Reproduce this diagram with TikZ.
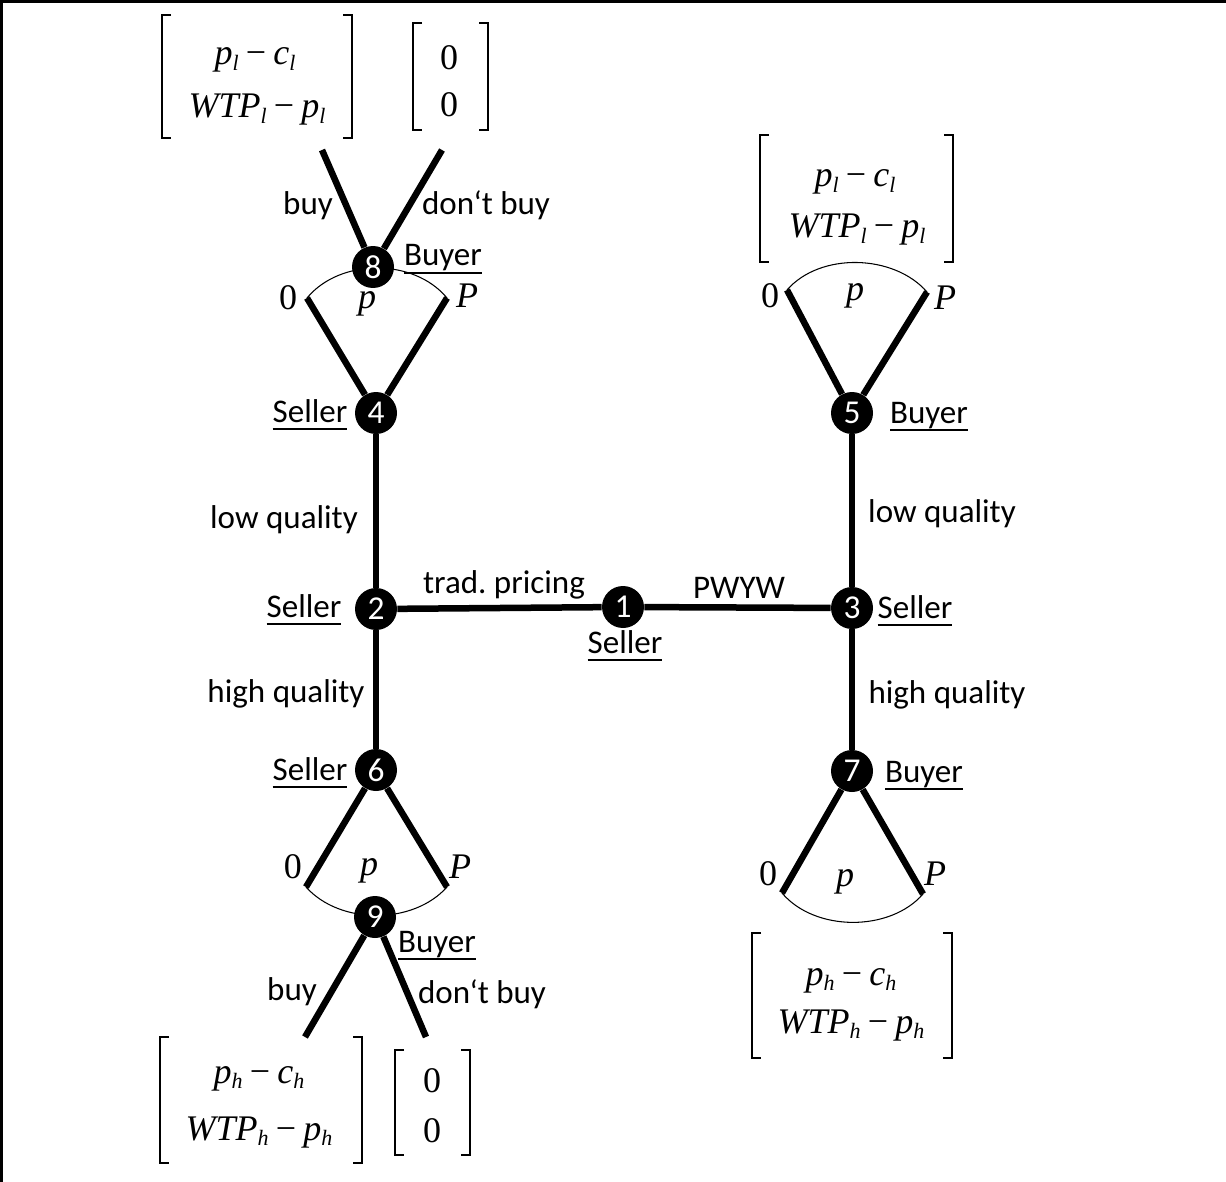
\documentclass[tikz,border=0pt]{standalone}
\usepackage{fontspec}
\setmainfont{Carlito}
\newfontfamily\tnr{Liberation Serif}
\usetikzlibrary{backgrounds}
\frenchspacing
\newcommand\ulx[1]{\sbox0{#1}\rlap{\rule[-4.8pt]{\wd0}{1.4pt}}\usebox0}
\newcommand\sv[2]{\textit{#1}\raisebox{-3pt}{\fontsize{12.5}{14}\selectfont\textit{#2}}}
\newcommand\mm{\hspace{0.2em}−\hspace{0.2em}}
\begin{document}
\begin{tikzpicture}[x=0.02cm,y=-0.02cm,
  dot/.style={circle,fill=black,minimum size=0.84cm,inner sep=0pt,text=white,font=\fontsize{19}{20}\selectfont},
  branch/.style={line width=3.7pt},
  lbl/.style={anchor=base,inner sep=0pt,font=\fontsize{18.8}{22}\selectfont},
  mth/.style={anchor=base,inner sep=0pt,font=\tnr\fontsize{20.5}{24}\selectfont},
  br/.style={line width=1.6pt},
  arcline/.style={line width=0.6pt}]
\useasboundingbox (0,0) rectangle (1226,1182);
\draw[line width=0.06cm] (1.5,1182) -- (1.5,1.5) -- (1226,1.5);

% decision nodes
\node[dot] (n1) at (623,607) {1};
\node[dot] (n2) at (376,609) {2};
\node[dot] (n3) at (852,608) {3};
\node[dot] (n4) at (376,413) {4};
\node[dot] (n5) at (852,413) {5};
\node[dot] (n6) at (376,770) {6};
\node[dot] (n7) at (852,771) {7};
\node[dot] (n8) at (373,267) {8};
\node[dot] (n9) at (375,917) {9};

% free ends
\coordinate (e4l) at (307,298); \coordinate (e4r) at (447,298);
\coordinate (e8l) at (322,150); \coordinate (e8r) at (442,150);
\coordinate (e5l) at (787,290); \coordinate (e5r) at (927,292);
\coordinate (e6l) at (306,887); \coordinate (e6r) at (447,887);
\coordinate (e9l) at (305,1037); \coordinate (e9r) at (426,1037);
\coordinate (e7l) at (782,893); \coordinate (e7r) at (923,894);

\begin{pgfonlayer}{background}
\draw[branch] (n2) -- (n1);
\draw[branch] (n1) -- (n3);
\draw[branch] (n2) -- (n4);
\draw[branch] (n2) -- (n6);
\draw[branch] (n3) -- (n5);
\draw[branch] (n3) -- (n7);
\draw[branch] (n4) -- (e4l);
\draw[branch] (n4) -- (e4r);
\draw[branch] (n8) -- (e8l);
\draw[branch] (n8) -- (e8r);
\draw[branch] (n5) -- (e5l);
\draw[branch] (n5) -- (e5r);
\draw[branch] (n6) -- (e6l);
\draw[branch] (n6) -- (e6r);
\draw[branch] (n9) -- (e9l);
\draw[branch] (n9) -- (e9r);
\draw[branch] (n7) -- (e7l);
\draw[branch] (n7) -- (e7r);
\draw[arcline] (e4l) .. controls (340,258) and (414,258) .. (e4r);
\draw[arcline] (e5l) .. controls (820,252) and (894,254) .. (e5r);
\draw[arcline] (e6l) .. controls (340,925) and (413,925) .. (e6r);
\draw[arcline] (e7l) .. controls (815,932) and (890,932) .. (e7r);
\end{pgfonlayer}

% middle labels
\node[lbl] (tlq) at (284,528) {low quality};
\node[lbl] (ts2) at (304,617) {\ulx{Seller}};
\node[lbl] (thq) at (286,702) {high quality};
\node[lbl] (ttp) at (504,593) {trad. pricing};
\node[lbl] (ts1) at (625,653) {\ulx{Seller}};
\node[lbl] (tpw) at (739,598) {PWYW};
\node[lbl] (ts3) at (915,618) {\ulx{Seller}};
\node[lbl] (trlq) at (942,522) {low quality};
\node[lbl] (trhq) at (947,703) {high quality};

% top-left subtree
\node[lbl] (ts4) at (310,422) {\ulx{Seller}};
\node[mth] (z4) at (288,310) {0};
\node[mth] (p4) at (367,309) {\textit{p}};
\node[mth] (P4) at (467,308) {\textit{P}};
\node[lbl] (tb8) at (443,266) {\ulx{Buyer}};
\node[lbl] (buy8) at (308,215) {buy};
\node[lbl] (dbuy8) at (486,215) {don‘t buy};
\node[mth] (m8a) at (255,65) {\sv{p}{l}\mm\sv{c}{l}};
\node[mth] (m8b) at (257,118) {\sv{WTP}{l}\mm\sv{p}{l}};
\node[mth] (z8a) at (449,70) {0};
\node[mth] (z8b) at (449,117) {0};
\draw[br] (171,15) -- (162,15) -- (162,138) -- (171,138);
\draw[br] (343,15) -- (352,15) -- (352,138) -- (343,138);
\draw[br] (422,23) -- (413,23) -- (413,130) -- (422,130);
\draw[br] (479,23) -- (488,23) -- (488,130) -- (479,130);

% top-right subtree
\node[lbl] (tb5) at (929,423) {\ulx{Buyer}};
\node[mth] (z5) at (770,308) {0};
\node[mth] (p5) at (855,300) {\textit{p}};
\node[mth] (P5) at (945,310) {\textit{P}};
\node[mth] (m5a) at (855,187) {\sv{p}{l}\mm\sv{c}{l}};
\node[mth] (m5b) at (857,238) {\sv{WTP}{l}\mm\sv{p}{l}};
\draw[br] (769,135) -- (760,135) -- (760,262) -- (769,262);
\draw[br] (944,135) -- (953,135) -- (953,262) -- (944,262);

% bottom-left subtree
\node[lbl] (ts6) at (310,780) {\ulx{Seller}};
\node[mth] (z6) at (293,878) {0};
\node[mth] (p6) at (369,875) {\textit{p}};
\node[mth] (P6) at (460,878) {\textit{P}};
\node[lbl] (tb9) at (437,952) {\ulx{Buyer}};
\node[lbl] (buy9) at (292,1000) {buy};
\node[lbl] (dbuy9) at (482,1003) {don‘t buy};
\node[mth] (m9a) at (259,1083) {\sv{p}{h}\mm\sv{c}{h}};
\node[mth] (m9b) at (259,1140) {\sv{WTP}{h}\mm\sv{p}{h}};
\node[mth] (z9a) at (432,1092) {0};
\node[mth] (z9b) at (432,1142) {0};
\draw[br] (169,1037) -- (160,1037) -- (160,1163) -- (169,1163);
\draw[br] (353,1037) -- (362,1037) -- (362,1163) -- (353,1163);
\draw[br] (404,1050) -- (395,1050) -- (395,1155) -- (404,1155);
\draw[br] (461,1050) -- (470,1050) -- (470,1155) -- (461,1155);

% bottom-right subtree
\node[lbl] (tb7) at (924,782) {\ulx{Buyer}};
\node[mth] (z7) at (768,885) {0};
\node[mth] (p7) at (845,886) {\textit{p}};
\node[mth] (P7) at (935,885) {\textit{P}};
\node[mth] (m7a) at (851,985) {\sv{p}{h}\mm\sv{c}{h}};
\node[mth] (m7b) at (851,1033) {\sv{WTP}{h}\mm\sv{p}{h}};
\draw[br] (761,933) -- (752,933) -- (752,1058) -- (761,1058);
\draw[br] (943,933) -- (952,933) -- (952,1058) -- (943,1058);
\end{tikzpicture}
\end{document}
